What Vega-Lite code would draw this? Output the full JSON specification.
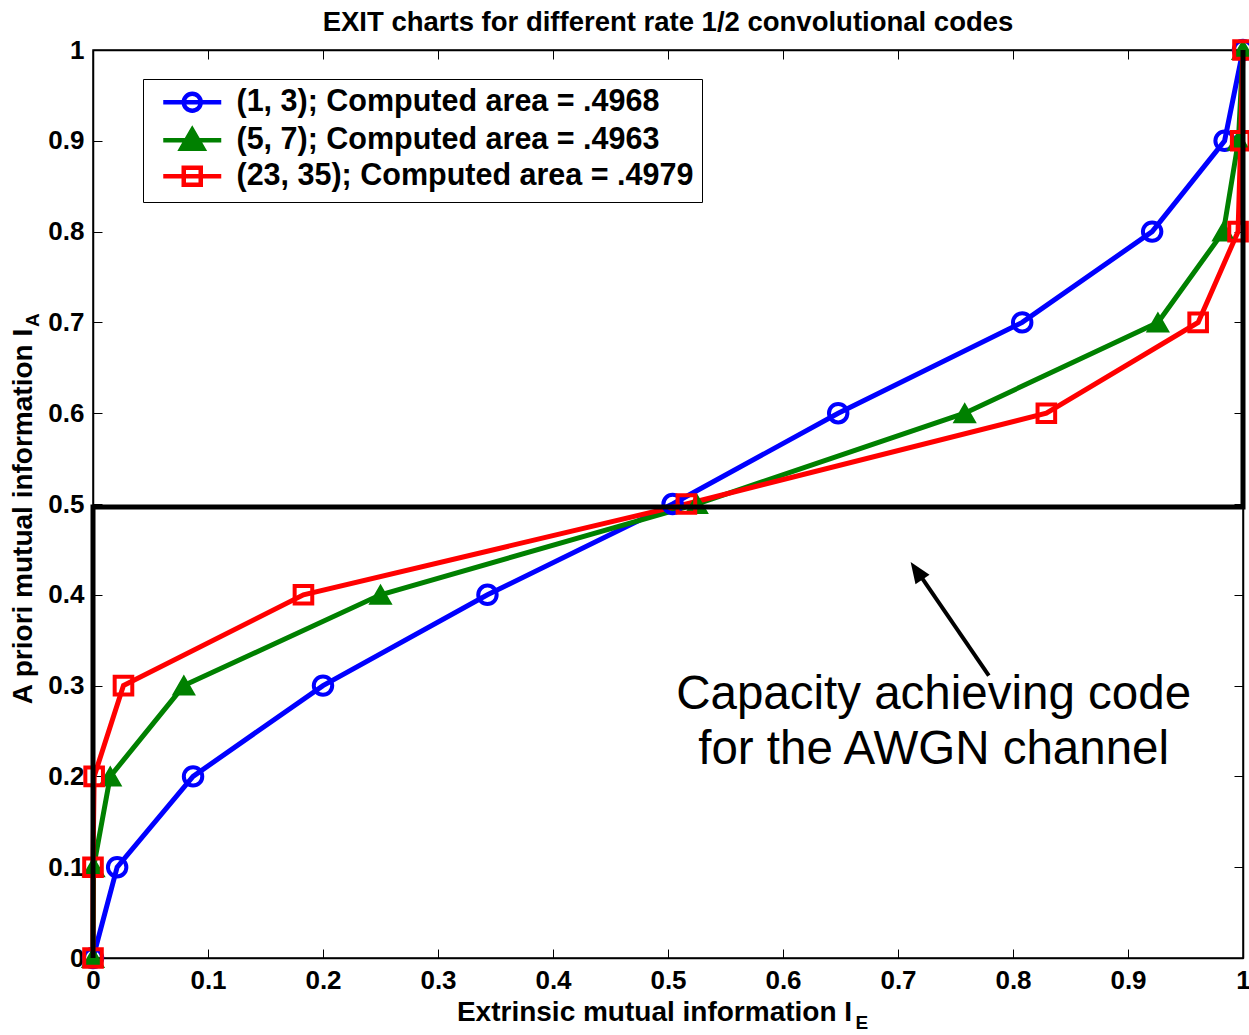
{
  "$schema": "https://vega.github.io/schema/vega-lite/v6.json",
  "width": 1150,
  "height": 908,
  "autosize": {"type": "none"},
  "padding": {"left": 93, "top": 50, "right": 6, "bottom": 77},
  "background": "white",
  "title": {"text": "EXIT charts for different rate 1/2 convolutional codes", "font": "Liberation Sans", "fontSize": 27.5, "fontWeight": "bold", "color": "#000", "offset": -4},
  "config": {
    "view": {"stroke": "#000", "strokeWidth": 1.5},
    "axis": {
      "labelFont": "Liberation Sans", "labelFontWeight": "bold", "labelFontSize": 26, "labelColor": "#000",
      "titleFont": "Liberation Sans", "titleFontWeight": "bold", "titleFontSize": 28, "titleColor": "#000",
      "tickColor": "#000", "tickSize": -9, "tickWidth": 1, "domainColor": "#000", "domainWidth": 1.5,
      "grid": false, "labelFlush": false, "labelOverlap": false, "labelBound": false
    }
  },
  "datasets": {
    "curves": [
      {"code": "(1, 3); Computed area = .4968", "ie": 0.0, "ia": 0.0},
      {"code": "(1, 3); Computed area = .4968", "ie": 0.021, "ia": 0.1},
      {"code": "(1, 3); Computed area = .4968", "ie": 0.087, "ia": 0.2},
      {"code": "(1, 3); Computed area = .4968", "ie": 0.2, "ia": 0.3},
      {"code": "(1, 3); Computed area = .4968", "ie": 0.343, "ia": 0.4},
      {"code": "(1, 3); Computed area = .4968", "ie": 0.504, "ia": 0.5},
      {"code": "(1, 3); Computed area = .4968", "ie": 0.648, "ia": 0.6},
      {"code": "(1, 3); Computed area = .4968", "ie": 0.808, "ia": 0.7},
      {"code": "(1, 3); Computed area = .4968", "ie": 0.921, "ia": 0.8},
      {"code": "(1, 3); Computed area = .4968", "ie": 0.984, "ia": 0.9},
      {"code": "(1, 3); Computed area = .4968", "ie": 1.0, "ia": 1.0},
      {"code": "(5, 7); Computed area = .4963", "ie": 0.0, "ia": 0.0},
      {"code": "(5, 7); Computed area = .4963", "ie": 0.0005, "ia": 0.1},
      {"code": "(5, 7); Computed area = .4963", "ie": 0.015, "ia": 0.2},
      {"code": "(5, 7); Computed area = .4963", "ie": 0.079, "ia": 0.3},
      {"code": "(5, 7); Computed area = .4963", "ie": 0.25, "ia": 0.4},
      {"code": "(5, 7); Computed area = .4963", "ie": 0.525, "ia": 0.5},
      {"code": "(5, 7); Computed area = .4963", "ie": 0.758, "ia": 0.6},
      {"code": "(5, 7); Computed area = .4963", "ie": 0.926, "ia": 0.7},
      {"code": "(5, 7); Computed area = .4963", "ie": 0.983, "ia": 0.8},
      {"code": "(5, 7); Computed area = .4963", "ie": 0.996, "ia": 0.9},
      {"code": "(5, 7); Computed area = .4963", "ie": 1.0, "ia": 1.0},
      {"code": "(23, 35); Computed area = .4979", "ie": 0.0, "ia": 0.0},
      {"code": "(23, 35); Computed area = .4979", "ie": 0.0, "ia": 0.1},
      {"code": "(23, 35); Computed area = .4979", "ie": 0.001, "ia": 0.2},
      {"code": "(23, 35); Computed area = .4979", "ie": 0.0265, "ia": 0.3},
      {"code": "(23, 35); Computed area = .4979", "ie": 0.183, "ia": 0.4},
      {"code": "(23, 35); Computed area = .4979", "ie": 0.516, "ia": 0.5},
      {"code": "(23, 35); Computed area = .4979", "ie": 0.829, "ia": 0.6},
      {"code": "(23, 35); Computed area = .4979", "ie": 0.961, "ia": 0.7},
      {"code": "(23, 35); Computed area = .4979", "ie": 0.9957, "ia": 0.8},
      {"code": "(23, 35); Computed area = .4979", "ie": 0.998, "ia": 0.9},
      {"code": "(23, 35); Computed area = .4979", "ie": 1.0, "ia": 1.0}
    ],
    "capacity": [
      {"k": 0, "ie": 0, "ia": 0},
      {"k": 1, "ie": 0, "ia": 0.4968},
      {"k": 2, "ie": 1, "ia": 0.4968},
      {"k": 3, "ie": 1, "ia": 1}
    ],
    "arrow": [
      {"ie": 0.779, "ia": 0.311, "ie2": 0.7163, "ia2": 0.4269, "tipx": 0.711, "tipy": 0.436}
    ],
    "note": [
      {"label": "Capacity achieving code\nfor the AWGN channel", "ie": 0.731, "ia": 0.2742}
    ],
    "subA": [{"label": "A", "ie": -0.052, "ia": 0.7026}],
    "subE": [{"label": "E", "ie": 0.6685, "ia": -0.0715}]
  },
  "layer": [
    {
      "data": {"name": "curves"},
      "mark": {"type": "line", "strokeWidth": 5, "clip": false},
      "encoding": {
        "x": {"field": "ie", "type": "quantitative", "scale": {"domain": [0, 1], "nice": false},
              "axis": {"orient": "bottom", "values": [0, 0.1, 0.2, 0.3, 0.4, 0.5, 0.6, 0.7, 0.8, 0.9, 1], "format": "~g", "title": "Extrinsic mutual information I", "labelPadding": 18, "titlePadding": 5, "titleX": 561}},
        "y": {"field": "ia", "type": "quantitative", "scale": {"domain": [0, 1], "nice": false},
              "axis": {"orient": "left", "values": [0, 0.1, 0.2, 0.3, 0.4, 0.5, 0.6, 0.7, 0.8, 0.9, 1], "format": "~g", "title": "A priori mutual information I", "labelPadding": 18, "titlePadding": 10, "titleY": 466}},
        "color": {"field": "code", "type": "nominal",
                  "scale": {"domain": ["(1, 3); Computed area = .4968", "(5, 7); Computed area = .4963", "(23, 35); Computed area = .4979"], "range": ["#0000ff", "#008000", "#ff0000"]},
                  "legend": {"orient": "none", "legendX": 50, "legendY": 29, "title": null,
                             "labelFont": "Liberation Sans", "labelFontWeight": "bold", "labelFontSize": 30.5, "labelColor": "#000", "labelLimit": 1000,
                             "strokeColor": "#000", "fillColor": "#fff", "padding": 8, "rowPadding": 0,
                             "symbolSize": 400, "symbolStrokeWidth": 4, "symbolOffset": 26, "labelOffset": 29,
                             "encode": {"symbols": {"update": {
                               "shape": {"signal": "['M-2.9,0H2.9M0.85,0A0.85,0.85,0,1,1,-0.85,0A0.85,0.85,0,1,1,0.85,0','M-2.9,0H2.9M0,-1.05L-1.1,0.85L1.1,0.85Z','M-2.9,0H2.9M-0.85,-0.85H0.85V0.85H-0.85Z'][datum.index]"},
                               "fill": {"signal": "datum.index === 1 ? '#008000' : 'transparent'"},
                               "strokeWidth": {"value": 4.5}
                             }}}}},
        "order": {"field": "ia", "type": "quantitative"}
      }
    },
    {
      "data": {"name": "curves"},
      "transform": [{"filter": "datum.code === '(1, 3); Computed area = .4968'"}],
      "mark": {"type": "point", "shape": "circle", "filled": false, "stroke": "#0000ff", "strokeWidth": 4, "size": 340, "clip": false, "opacity": 1},
      "encoding": {
        "x": {"field": "ie", "type": "quantitative", "scale": {"domain": [0, 1], "nice": false}, "axis": null},
        "y": {"field": "ia", "type": "quantitative", "scale": {"domain": [0, 1], "nice": false}, "axis": null}
      }
    },
    {
      "data": {"name": "curves"},
      "transform": [{"filter": "datum.code === '(5, 7); Computed area = .4963'"}],
      "mark": {"type": "point", "shape": "triangle-up", "filled": true, "color": "#008000", "stroke": "#008000", "strokeWidth": 2, "size": 430, "clip": false, "opacity": 1},
      "encoding": {
        "x": {"field": "ie", "type": "quantitative", "scale": {"domain": [0, 1], "nice": false}, "axis": null},
        "y": {"field": "ia", "type": "quantitative", "scale": {"domain": [0, 1], "nice": false}, "axis": null}
      }
    },
    {
      "data": {"name": "curves"},
      "transform": [{"filter": "datum.code === '(23, 35); Computed area = .4979'"}],
      "mark": {"type": "point", "shape": "square", "filled": false, "stroke": "#ff0000", "strokeWidth": 4, "size": 310, "clip": false, "opacity": 1},
      "encoding": {
        "x": {"field": "ie", "type": "quantitative", "scale": {"domain": [0, 1], "nice": false}, "axis": null},
        "y": {"field": "ia", "type": "quantitative", "scale": {"domain": [0, 1], "nice": false}, "axis": null}
      }
    },
    {
      "data": {"name": "capacity"},
      "mark": {"type": "line", "color": "#000", "strokeWidth": 5, "clip": false},
      "encoding": {
        "x": {"field": "ie", "type": "quantitative", "scale": {"domain": [0, 1], "nice": false},
              "axis": {"orient": "top", "values": [0, 0.1, 0.2, 0.3, 0.4, 0.5, 0.6, 0.7, 0.8, 0.9, 1], "labels": false, "title": null}},
        "y": {"field": "ia", "type": "quantitative", "scale": {"domain": [0, 1], "nice": false},
              "axis": {"orient": "right", "values": [0, 0.1, 0.2, 0.3, 0.4, 0.5, 0.6, 0.7, 0.8, 0.9, 1], "labels": false, "title": null}},
        "order": {"field": "k", "type": "quantitative"}
      }
    },
    {
      "data": {"name": "arrow"},
      "mark": {"type": "rule", "color": "#000", "strokeWidth": 4},
      "encoding": {
        "x": {"field": "ie", "type": "quantitative", "scale": {"domain": [0, 1], "nice": false}, "axis": null},
        "y": {"field": "ia", "type": "quantitative", "scale": {"domain": [0, 1], "nice": false}, "axis": null},
        "x2": {"field": "ie2"},
        "y2": {"field": "ia2"}
      }
    },
    {
      "data": {"name": "arrow"},
      "mark": {"type": "point", "shape": "M0,0L-0.85,2.1L0.85,2.1Z", "size": 400, "filled": true, "color": "#000", "opacity": 1, "angle": 325.6},
      "encoding": {
        "x": {"field": "tipx", "type": "quantitative", "scale": {"domain": [0, 1], "nice": false}, "axis": null},
        "y": {"field": "tipy", "type": "quantitative", "scale": {"domain": [0, 1], "nice": false}, "axis": null}
      }
    },
    {
      "data": {"name": "note"},
      "mark": {"type": "text", "font": "Liberation Sans", "fontSize": 47.5, "color": "#000", "align": "center", "baseline": "alphabetic", "lineBreak": "\n", "lineHeight": 55},
      "encoding": {
        "x": {"field": "ie", "type": "quantitative", "scale": {"domain": [0, 1], "nice": false}, "axis": null},
        "y": {"field": "ia", "type": "quantitative", "scale": {"domain": [0, 1], "nice": false}, "axis": null},
        "text": {"field": "label"}
      }
    },
    {
      "data": {"name": "subA"},
      "mark": {"type": "text", "font": "Liberation Sans", "fontSize": 19, "fontWeight": "bold", "color": "#000", "align": "center", "baseline": "middle", "angle": 270, "clip": false},
      "encoding": {
        "x": {"field": "ie", "type": "quantitative", "scale": {"domain": [0, 1], "nice": false}, "axis": null},
        "y": {"field": "ia", "type": "quantitative", "scale": {"domain": [0, 1], "nice": false}, "axis": null},
        "text": {"field": "label"}
      }
    },
    {
      "data": {"name": "subE"},
      "mark": {"type": "text", "font": "Liberation Sans", "fontSize": 19, "fontWeight": "bold", "color": "#000", "align": "center", "baseline": "middle", "clip": false},
      "encoding": {
        "x": {"field": "ie", "type": "quantitative", "scale": {"domain": [0, 1], "nice": false}, "axis": null},
        "y": {"field": "ia", "type": "quantitative", "scale": {"domain": [0, 1], "nice": false}, "axis": null},
        "text": {"field": "label"}
      }
    }
  ],
  "resolve": {"axis": {"x": "independent", "y": "independent"}}
}
